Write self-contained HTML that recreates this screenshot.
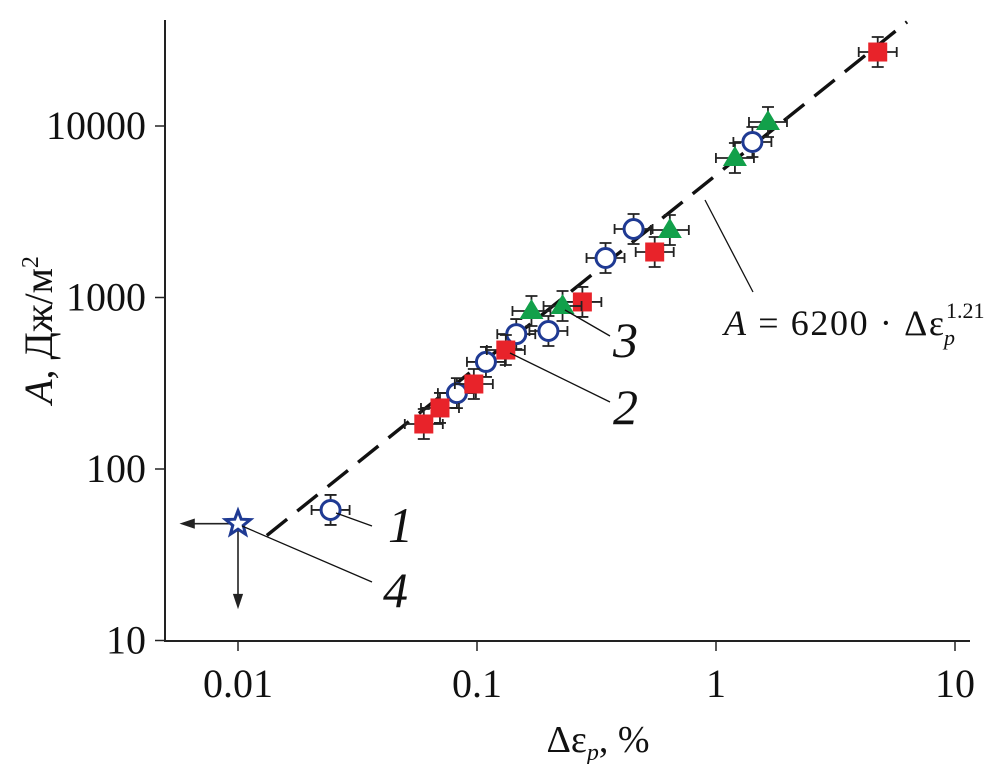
<!DOCTYPE html>
<html><head><meta charset="utf-8"><style>
body{margin:0;background:#fff}
svg text{font-family:"Liberation Serif","DejaVu Serif",serif;fill:#111}
</style></head><body>
<svg id="chart" width="999" height="764" viewBox="0 0 999 764" xmlns="http://www.w3.org/2000/svg">
<g id="axes"></g>
<g id="fit"></g>
<g id="marks"></g>
<g id="notes">
<text x="388" y="542" font-size="50" font-style="italic">1</text>
<text x="383" y="607" font-size="50" font-style="italic">4</text>
<text x="613" y="424" font-size="50" font-style="italic">2</text>
<text x="613" y="357" font-size="50" font-style="italic">3</text>
<line x1="336" y1="513" x2="372" y2="526" stroke="#111" stroke-width="1.3"/>
<line x1="242" y1="526" x2="372" y2="582" stroke="#111" stroke-width="1.3"/>
<line x1="510" y1="353" x2="610" y2="402" stroke="#111" stroke-width="1.3"/>
<line x1="565" y1="310" x2="610" y2="336" stroke="#111" stroke-width="1.3"/>
<line x1="705" y1="200" x2="753" y2="292" stroke="#111" stroke-width="1.3"/>
<text x="724" y="335" font-size="36" textLength="220"><tspan font-style="italic">A</tspan> = 6200 · Δε</text>
<text x="944" y="345" font-size="22" font-style="italic">p</text>
<text x="946" y="318" font-size="22">1.21</text>
</g>
<text x="598" y="752" font-size="38" text-anchor="middle">Δε<tspan font-size="24" font-style="italic" dy="8">p</tspan><tspan dy="-8">, %</tspan></text>
<text transform="translate(52,330) rotate(-90)" font-size="40" text-anchor="middle"><tspan font-style="italic">A</tspan>, Дж/м<tspan font-size="24" dy="-14">2</tspan></text>
</svg>
<script>
const xTicks=[0.01,0.1,1,10];
const xTickLabels=["0.01","0.1","1","10"];
const yTicks=[10,100,1000,10000];
const yTickLabels=["10","100","1000","10000"];
const circX=[0.0244,0.0824,0.109,0.146,0.199,0.345,0.452,1.42];
const circY=[57.7,277,421,612,638,1700,2508,8070];
const sqX=[0.0599,0.070,0.097,0.132,0.276,0.554,4.75];
const sqY=[183,227,313,494,942,1842,27000];
const triX=[0.169,0.228,0.641,1.20,1.65];
const triY=[834,892,2475,6510,10550];
const starX=[0.01];
const starY=[48];
const fitCoef=[5170];
const fitExp=[1.118];
const fitRange=[0.0132,6.3];

const NS="http://www.w3.org/2000/svg";
function X(v){return 477+239*(Math.log10(v)+1);}
function Y(v){return 469-171.5*(Math.log10(v)-2);}
function el(tag,attrs,parent){const e=document.createElementNS(NS,tag);for(const k in attrs)e.setAttribute(k,attrs[k]);parent.appendChild(e);return e;}
const axes=document.getElementById('axes');
const ax=el('path',{d:'M165,20 V641 H970',fill:'none',stroke:'#222','stroke-width':2},axes);


xTicks.forEach((t,i)=>{
  const x=X(t);
  const tk=el('line',{x1:x,y1:641,x2:x,y2:651,stroke:'#222','stroke-width':1.5},axes);
  
  
  const tx=el('text',{x:x,y:697,'font-size':40,'text-anchor':'middle'},axes);
  tx.textContent=xTickLabels[i];
  
  
});
yTicks.forEach((t,i)=>{
  const y=Y(t);
  const tk=el('line',{x1:155,y1:y,x2:165,y2:y,stroke:'#222','stroke-width':1.5},axes);
  
  
  const tx=el('text',{x:146,y:y+13,'font-size':40,'text-anchor':'end'},axes);
  tx.textContent=yTickLabels[i];
  
  
});
const fit=document.getElementById('fit');
const x0=fitRange[0],x1=fitRange[1];
const fl=el('line',{x1:X(x0),y1:Y(fitCoef[0]*Math.pow(x0,fitExp[0])),x2:X(x1),y2:Y(fitCoef[0]*Math.pow(x1,fitExp[0])),stroke:'#111','stroke-width':3.4,'stroke-dasharray':'26 13'},fit);


const marks=document.getElementById('marks');
function errbar(x,y){
  const g=el('g',{stroke:'#222','stroke-width':1.8,fill:'none'},marks);
  
  
  const px=X(x),py=Y(y),h=19,v=15;
  el('path',{d:`M${px-h},${py} H${px+h} M${px-h},${py-5} V${py+5} M${px+h},${py-5} V${py+5} M${px},${py-v} V${py+v} M${px-6},${py-v} H${px+6} M${px-6},${py+v} H${px+6}`},g);
}
circX.forEach((x,i)=>{errbar(x,circY[i]);
  const c=el('circle',{cx:X(x),cy:Y(circY[i]),r:9.5,fill:'#fff',stroke:'#1f3a93','stroke-width':3},marks);
  
  });
sqX.forEach((x,i)=>{errbar(x,sqY[i]);
  const s=el('rect',{x:X(x)-9.5,y:Y(sqY[i])-9.5,width:19,height:19,fill:'#e8232a'},marks);
  
  });
triX.forEach((x,i)=>{errbar(x,triY[i]);
  const px=X(x),py=Y(triY[i]);
  const t=el('polygon',{points:`${px},${py-12} ${px+12},${py+8} ${px-12},${py+8}`,fill:'#12a04a'},marks);
  
  });
starX.forEach((x,i)=>{
  const px=X(x),py=Y(starY[i]);
  const g=el('g',{stroke:'#222','stroke-width':1.6,fill:'#222'},marks);
  
  
  el('line',{x1:px,y1:py,x2:px-48,y2:py},g);
  el('polygon',{points:`${px-56},${py} ${px-44},${py-4} ${px-44},${py+4}`},g);
  el('line',{x1:px,y1:py,x2:px,y2:py+74},g);
  el('polygon',{points:`${px},${py+83} ${px-4},${py+71} ${px+4},${py+71}`},g);
  let pts=[];for(let k=0;k<10;k++){const r=k%2?5.5:13,a=-Math.PI/2+k*Math.PI/5;pts.push((px+r*Math.cos(a)).toFixed(1)+','+(py+r*Math.sin(a)).toFixed(1));}
  const s=el('polygon',{points:pts.join(' '),fill:'#fff',stroke:'#1f3a93','stroke-width':3},marks);
  
  
});
</script>
</body></html>
